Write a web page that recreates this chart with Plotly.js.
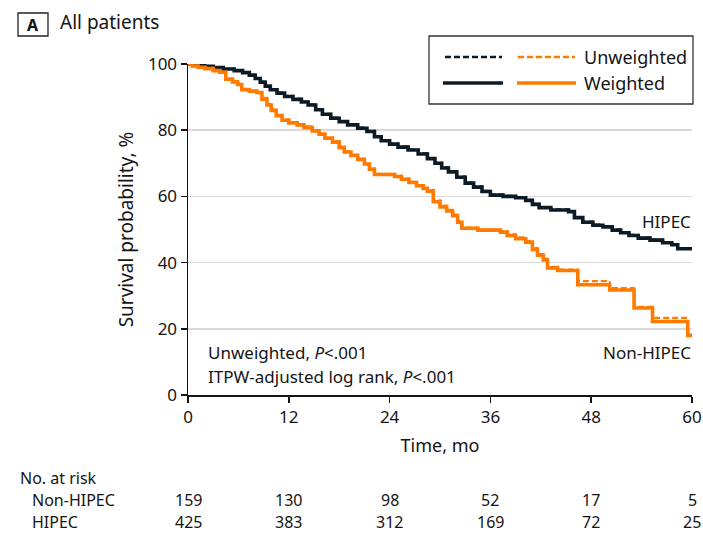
<!DOCTYPE html>
<html>
<head>
<meta charset="utf-8">
<script src="https://cdn.plot.ly/plotly-3.0.1.min.js"></script>
<style>
  html, body { margin: 0; padding: 0; background: #fff; }
  #chart { width: 703px; height: 536px; }
</style>
</head>
<body>
<div id="chart"></div>
<script>
// Kaplan-Meier estimates, survival probability (%) by time (months)
const hipecTime = [0,0.8,2.0,3.0,4.2,5.5,6.5,7.3,8.0,8.6,9.2,9.8,10.6,11.5,12.5,13.5,14.3,15.2,16.0,17.0,18.0,19.0,20.2,21.3,22.2,23.0,24.0,25.0,26.2,27.4,28.5,29.4,30.2,31.0,32.0,33.0,34.0,35.0,36.0,37.5,39.0,40.2,41.0,41.8,43.2,45.3,46.0,47.0,48.2,49.4,50.5,51.5,52.5,53.6,55.0,56.5,57.6,58.3,60];
const hipecWeighted = [100,99.7,99.3,98.9,98.5,98.0,97.4,96.6,95.6,94.5,93.3,92.2,91.2,90.2,89.3,88.5,87.6,86.2,84.8,83.6,82.6,81.6,80.6,79.6,78.0,76.8,75.8,74.9,74.0,72.8,71.4,70.0,68.6,67.4,65.8,64.0,62.8,61.5,60.4,60.0,59.6,58.8,57.6,56.6,55.9,55.4,53.6,52.2,51.3,50.8,49.8,49.0,48.2,47.4,46.8,46.0,45.4,44.2,44.2];
const hipecUnweighted = [100,99.8,99.4,99.0,98.6,98.2,97.5,96.8,95.8,94.7,93.5,92.4,91.4,90.4,89.5,88.7,87.8,86.4,85.0,83.8,82.8,81.8,80.8,79.8,78.2,77.0,76.0,75.1,74.2,73.0,71.6,70.2,68.8,67.6,66.0,64.2,63.0,61.7,60.6,60.2,59.8,59.0,57.8,56.8,56.1,55.6,53.8,52.4,51.5,51.0,50.0,49.2,48.4,47.6,47.0,46.2,45.6,44.4,44.4];

const nonTime = [0,0.5,1.2,2.0,3.0,3.8,4.5,5.3,5.9,6.4,7.3,8.2,8.8,9.4,9.9,10.5,11.2,12.0,13.0,13.8,14.8,15.6,16.3,17.2,18.0,18.6,19.4,20.2,21.0,21.6,22.2,24.6,25.4,26.3,27.2,28.0,28.5,29.2,30.0,30.8,31.5,32.1,32.6,34.5,37.2,38.0,39.0,40.2,41.0,41.6,42.3,42.8,44.0,46.4,50.2,53.1,55.3,59.5,60];
const nonWeighted = [100,99.4,99.0,98.6,98.0,97.5,95.4,94.6,93.8,92.2,91.8,91.4,89.4,87.6,86.0,84.4,83.0,82.2,81.6,80.8,79.8,78.8,77.6,76.4,74.8,73.4,72.4,71.2,69.8,68.2,66.6,66.0,65.2,64.2,63.2,62.4,61.6,58.4,56.8,55.6,54.2,52.2,50.4,49.8,49.2,48.2,47.2,46.2,44.0,42.2,40.8,38.4,37.6,33.3,31.7,26.3,22.2,18.0,18.0];
const nonUnweighted = [100,99.5,99.1,98.8,98.1,97.6,95.6,94.8,93.6,92.5,91.9,91.2,89.8,87.9,86.3,84.6,83.3,82.4,81.8,81.2,80.0,79.0,77.4,76.6,74.6,73.6,72.2,71.3,69.6,68.4,66.8,66.2,65.4,64.4,63.4,62.6,61.9,58.8,57.2,55.9,54.5,52.6,50.6,50.0,49.5,48.5,47.6,46.6,44.4,42.6,41.1,38.7,37.9,34.4,32.3,26.6,23.3,18.2,18.2];

// Number at risk table
const riskTimes = [0, 12, 24, 36, 48, 60];
const riskNonHipec = [159, 130, 98, 52, 17, 5];
const riskHipec = [425, 383, 312, 169, 72, 25];

const xTicks = [0, 12, 24, 36, 48, 60];
const yTicks = [0, 20, 40, 60, 80, 100];

const NAVY = '#0c1b25';
const ORANGE = '#ff7a00';
const INK = '#141414';
const FONT = '"Noto Sans", "Open Sans", sans-serif';

// Plot area geometry (px) used to place paper-referenced decorations
const W = 703, H = 536;
const M = { l: 188, r: 11, t: 64, b: 141 };
const PW = W - M.l - M.r, PH = H - M.t - M.b;
const px = x => (x - M.l) / PW;
const py = y => (H - M.b - y) / PH;

function kmTrace(x, y, color, dash, width) {
  return {
    type: 'scatter', mode: 'lines', x: x, y: y,
    line: { shape: 'hv', color: color, width: width, dash: dash },
    hoverinfo: 'skip', showlegend: false
  };
}

const data = [
  kmTrace(hipecTime, hipecWeighted, NAVY, 'solid', 3.6),
  kmTrace(hipecTime, hipecUnweighted, NAVY, '6px,3px', 2),
  kmTrace(nonTime, nonWeighted, ORANGE, 'solid', 3.6),
  kmTrace(nonTime, nonUnweighted, ORANGE, '6px,3px', 2.2)
];

const annotations = [];
const txt = (x, y, text, opts) => Object.assign({
  xref: 'paper', yref: 'paper', x: px(x), y: py(y), text: text,
  showarrow: false, xanchor: 'left', yanchor: 'middle',
  font: { family: FONT, size: 17, color: INK }
}, opts || {});

// Panel heading
annotations.push(txt(33, 25, '<b>A</b>', { xanchor: 'center', font: { family: FONT, size: 16, color: '#111' } }));
annotations.push(txt(58, 22, 'All patients', { font: { family: FONT, size: 19, color: INK } }));

// Legend labels
annotations.push(txt(582, 57, 'Unweighted', { font: { family: FONT, size: 18, color: INK } }));
annotations.push(txt(582, 83, 'Weighted', { font: { family: FONT, size: 18, color: INK } }));

// Curve labels
annotations.push(txt(693, 221, 'HIPEC', { xanchor: 'right' }));
annotations.push(txt(693, 352, 'Non-HIPEC', { xanchor: 'right' }));

// Test statistics
annotations.push(txt(206, 352, 'Unweighted, <i>P</i><.001'));
annotations.push(txt(206, 376, 'ITPW-adjusted log rank, <i>P</i><.001'));

// Number at risk
annotations.push(txt(18, 478, 'No. at risk', { font: { family: FONT, size: 16, color: INK } }));
annotations.push(txt(30, 500, 'Non-HIPEC', { font: { family: FONT, size: 16, color: INK } }));
annotations.push(txt(30, 522, 'HIPEC', { font: { family: FONT, size: 16, color: INK } }));
riskTimes.forEach((t, i) => {
  annotations.push({ xref: 'x', yref: 'paper', x: t, y: py(500), text: String(riskNonHipec[i]),
    showarrow: false, xanchor: 'center', yanchor: 'middle', font: { family: FONT, size: 16, color: INK } });
  annotations.push({ xref: 'x', yref: 'paper', x: t, y: py(522), text: String(riskHipec[i]),
    showarrow: false, xanchor: 'center', yanchor: 'middle', font: { family: FONT, size: 16, color: INK } });
});

const shapes = [
  // panel letter box
  { type: 'rect', xref: 'paper', yref: 'paper', x0: px(18), x1: px(48), y0: py(13), y1: py(36),
    line: { color: '#222', width: 1.3 }, fillcolor: 'rgba(0,0,0,0)', layer: 'above' },
  // legend box
  { type: 'rect', xref: 'paper', yref: 'paper', x0: px(429), x1: px(693), y0: py(36), y1: py(104),
    line: { color: '#333', width: 1.3 }, fillcolor: '#ffffff', layer: 'above' },
  { type: 'line', xref: 'paper', yref: 'paper', x0: px(445), x1: px(502), y0: py(57), y1: py(57),
    line: { color: NAVY, width: 2.4, dash: '6px,3px' }, layer: 'above' },
  { type: 'line', xref: 'paper', yref: 'paper', x0: px(518), x1: px(575), y0: py(57), y1: py(57),
    line: { color: ORANGE, width: 2.4, dash: '6px,3px' }, layer: 'above' },
  { type: 'line', xref: 'paper', yref: 'paper', x0: px(443), x1: px(503), y0: py(83), y1: py(83),
    line: { color: NAVY, width: 3.6 }, layer: 'above' },
  { type: 'line', xref: 'paper', yref: 'paper', x0: px(517), x1: px(576), y0: py(83), y1: py(83),
    line: { color: ORANGE, width: 3.6 }, layer: 'above' }
];

const layout = {
  width: W, height: H,
  margin: M,
  paper_bgcolor: '#ffffff', plot_bgcolor: '#ffffff',
  font: { family: FONT, size: 17, color: INK },
  showlegend: false,
  xaxis: {
    range: [0, 60], tickvals: xTicks, ticktext: xTicks.map(String),
    showline: true, linecolor: INK, linewidth: 1.5,
    ticks: 'outside', ticklen: 6, tickwidth: 1.5, tickcolor: INK,
    showgrid: false, zeroline: false,
    tickfont: { family: FONT, size: 17, color: INK },
    title: { text: 'Time, mo', font: { family: FONT, size: 18, color: INK }, standoff: 12 }
  },
  yaxis: {
    range: [0, 100], tickvals: yTicks, ticktext: yTicks.map(String),
    showline: true, linecolor: INK, linewidth: 1.5,
    ticks: 'outside', ticklen: 6, tickwidth: 1.5, tickcolor: INK,
    showgrid: true, gridcolor: '#d9d9d9', gridwidth: 1.5, zeroline: false,
    tickfont: { family: FONT, size: 17, color: INK },
    title: { text: 'Survival probability, %', font: { family: FONT, size: 19, color: INK }, standoff: 9 }
  },
  annotations: annotations,
  shapes: shapes
};

Plotly.newPlot('chart', data, layout, { staticPlot: true, displayModeBar: false });
</script>
</body>
</html>
